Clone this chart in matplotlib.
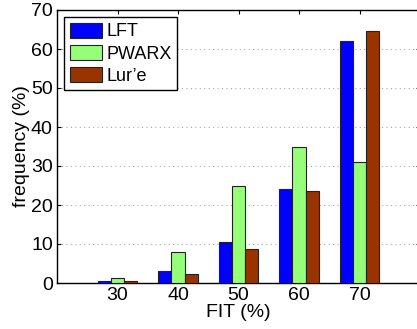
import numpy as np
import matplotlib
matplotlib.use("Agg")
import matplotlib.pyplot as plt

plt.rcParams['font.family'] = ['Liberation Sans', 'DejaVu Sans']

fit = [30, 40, 50, 60, 70]
lft = [0.5, 3.2, 10.4, 24.1, 62.0]
pwarx = [1.3, 8.0, 24.8, 35.0, 31.0]
lure = [0.6, 2.4, 8.6, 23.7, 64.7]
series = ["LFT", "PWARX", "Lur\u2019e"]
colors = ["#0000ff", "#96ff78", "#993300"]

fig = plt.figure(figsize=(4.17, 3.29), dpi=100)
ax = fig.add_axes([57/417, 1 - 283/329, 363/417, 273/329])

x = np.array(fit, dtype=float)
w = 2.2
for i, (vals, lab, c) in enumerate(zip([lft, pwarx, lure], series, colors)):
    ax.bar(x + (i - 1) * w, vals, width=w, color=c, edgecolor="#222222",
           linewidth=0.8, label=lab, zorder=3)

ax.set_xlim(20, 80)
ax.set_ylim(0, 70)
ax.set_xticks(fit)
ax.set_yticks(range(0, 71, 10))
ax.yaxis.grid(True, linestyle=(0, (1, 3)), color="#aaaaaa", linewidth=0.8, zorder=0)
ax.tick_params(direction="in", top=True, right=True, labelsize=14, length=3)
ax.tick_params(axis="x", pad=3)
ax.tick_params(axis="y", pad=3)
for s in ax.spines.values():
    s.set_linewidth(1.0)
ax.set_xlabel("FIT (%)", fontsize=14, labelpad=0)
ax.set_ylabel("frequency (%)", fontsize=14, labelpad=1)

leg = ax.legend(loc="upper left", fontsize=13, fancybox=False, framealpha=1,
                edgecolor="black", handlelength=1.8, handleheight=0.9,
                borderaxespad=0.4, labelspacing=0.25, handletextpad=0.22,
                borderpad=0.3)
leg.get_frame().set_linewidth(1.0)

fig.savefig("out.png", dpi=100)
